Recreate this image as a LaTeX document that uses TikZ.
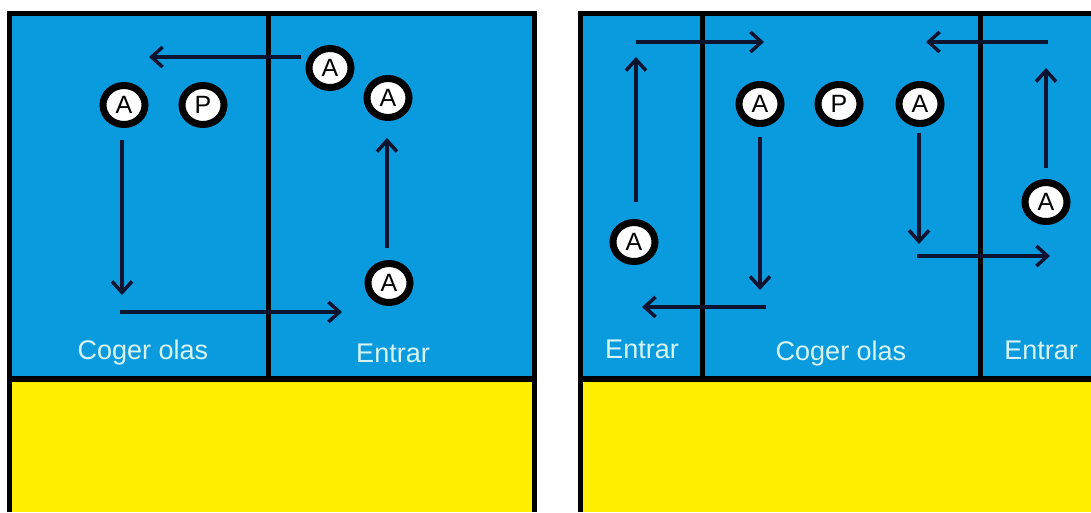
\documentclass[tikz,border=0pt]{standalone}
\usepackage{fontspec}
\setmainfont{Liberation Sans}
\usetikzlibrary{shapes.geometric,arrows.meta}
\definecolor{mar}{RGB}{10,155,222}
\definecolor{arena}{RGB}{255,238,0}
\definecolor{tinta}{RGB}{12,20,48}
\definecolor{rotulo}{RGB}{215,244,244}

\begin{document}
\begin{tikzpicture}
		[x=1pt,y=-1pt,
		jug/.style={ellipse,draw=black,line width=7pt,fill=white,minimum width=42pt,minimum height=39pt,inner sep=0pt,font=\fontsize{25}{25}\selectfont},
		zona/.style={text=rotulo,anchor=base,font=\fontsize{27}{27}\selectfont},
		flecha/.style={draw=tinta,line width=3.5pt,-{Straight Barb[length=11pt,width=20pt,line width=3.5pt]}},
		borde/.style={line width=5pt,draw=black}]
		\useasboundingbox (0,0) rectangle (1091,512);

		\fill[mar] (9.5,13.5) rectangle (534.5,379);
		\fill[arena] (9.5,379) rectangle (534.5,512);
		\fill[mar] (580,13.5) rectangle (1091,379);
		\fill[arena] (580,379) rectangle (1091,512);

		\draw[borde] (9.5,512) -- (9.5,13.5) -- (534.5,13.5) -- (534.5,512);
		\draw[borde,line width=6pt] (9.5,379) -- (534.5,379);
		\draw[borde] (268,13.5) -- (268,379);
		\draw[borde] (580,512) -- (580,13.5) -- (1091,13.5);
		\draw[borde,line width=6pt] (580,379) -- (1091,379);
		\draw[borde] (702,13.5) -- (702,379);
		\draw[borde] (980,13.5) -- (980,379);

		\node[zona] (t1) at (143,359) {Coger olas};
		\node[zona] (t2) at (393,362) {Entrar};
		\node[zona] (t3) at (642,358) {Entrar};
		\node[zona] (t4) at (841,360) {Coger olas};
		\node[zona] (t5) at (1041,359) {Entrar};

		\coordinate (f1a) at (301,57);   \coordinate (f1b) at (149,57);
		\coordinate (f2a) at (122,140);  \coordinate (f2b) at (122,295);
		\coordinate (f3a) at (120,312);  \coordinate (f3b) at (342,312);
		\coordinate (f4a) at (387,248);  \coordinate (f4b) at (387,138);
		\coordinate (f5a) at (636,202);  \coordinate (f5b) at (636,57);
		\coordinate (f6a) at (636,42);   \coordinate (f6b) at (764,42);
		\coordinate (f7a) at (760,137);  \coordinate (f7b) at (760,290);
		\coordinate (f8a) at (766,307);  \coordinate (f8b) at (642,307);
		\coordinate (f9a) at (919,133);  \coordinate (f9b) at (919,244);
		\coordinate (f10a) at (917,256); \coordinate (f10b) at (1050,256);
		\coordinate (f11a) at (1048,42); \coordinate (f11b) at (926,42);
		\coordinate (f12a) at (1046,168);\coordinate (f12b) at (1046,68);

		\draw[flecha] (f1a) -- (f1b);
		\draw[flecha] (f2a) -- (f2b);
		\draw[flecha] (f3a) -- (f3b);
		\draw[flecha] (f4a) -- (f4b);
		\draw[flecha] (f5a) -- (f5b);
		\draw[flecha] (f6a) -- (f6b);
		\draw[flecha] (f7a) -- (f7b);
		\draw[flecha] (f8a) -- (f8b);
		\draw[flecha] (f9a) -- (f9b);
		\draw[flecha] (f10a) -- (f10b);
		\draw[flecha] (f11a) -- (f11b);
		\draw[flecha] (f12a) -- (f12b);

		\node[jug] (n1) at (124,105) {A};
		\node[jug] (n2) at (203,105) {P};
		\node[jug] (n3) at (330,68) {A};
		\node[jug] (n4) at (388,98) {A};
		\node[jug] (n5) at (389,283) {A};
		\node[jug] (n6) at (634,242) {A};
		\node[jug] (n7) at (760,104) {A};
		\node[jug] (n8) at (839,104) {P};
		\node[jug] (n9) at (920,104) {A};
		\node[jug] (n10) at (1046,202) {A};

	\end{tikzpicture}
\end{document}
